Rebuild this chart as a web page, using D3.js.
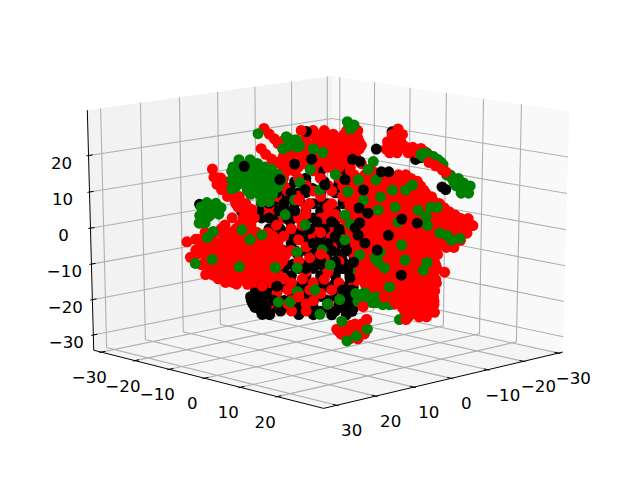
<!DOCTYPE html>
<html>
<head>
<meta charset="utf-8">
<script src="https://cdn.jsdelivr.net/npm/d3@7"></script>
<style>
html, body { margin: 0; padding: 0; background: #fff; }
svg { display: block; }
text { font-family: "DejaVu Sans", sans-serif; font-size: 16.67px; fill: #000; }
</style>
</head>
<body>
<div id="chart"></div>
<script>
var width = 640, height = 480;
var xTicks = [-30, -20, -10, 0, 10, 20, 30];
var yTicks = [-30, -20, -10, 0, 10, 20];
var zTicks = [-30, -20, -10, 0, 10, 20];
var xLim = [-30, 32], yLim = [-31, 31], zLim = [-33, 31];

// values, depth along the view is a guess
var blackBase = [
[10.9,-9.9,-17],[9.6,-8.6,-17],[8.2,-7.2,-17],[11.6,-10.6,-19],[10.2,-9.2,-19],[8.9,-7.9,-19],[11.3,-10.3,-21],[10,-9,-21],[8.6,-7.6,-21],[10.2,-9.2,-23],[8.9,-7.9,-23],
[8,-7,14],[4,-3,14],[2,-1,14],[14,-3,13],[11,0,13],[8,3,13],[5,6,13],
[5,-14,6],[2,-11,6],[0,-9,6],[-3,-6,6],[-6,-3,6],
[10,-9,5],[8,-7,5],[6,-5,5],[4,-3,5],[2,-1,5],[0,1,5],[-2,3,5],
[13,-2,4],[11,0,4],[9,2,4],[7,4,4],[5,6,4],[3,8,4],
[2,-11,-3],[0,-9,-3],[-2,-7,-3],[-4,-5,-3],[-6,-3,-3],[-8,-1,-3],
[6,-5,-4],[4,-3,-4],[2,-1,-4],[0,1,-4],[-2,3,-4],
[10,1,-5],[8,3,-5],[6,5,-5],[4,7,-5],[2.5,8.5,-5],
[1,-10,-12],[-1,-8,-12],[-3,-6,-12],[-5,-4,-12],[-7,-2,-12],
[6,-5,-13],[4,-3,-13],[2,-1,-13],[0,1,-13],[-2,3,-13],
[12,-1,-14],[10,1,-14],[8,3,-14],[6,5,-14],[4,7,-14],[2.5,8.5,-14],
[1,-10,-21],[-1,-8,-21],[-3,-6,-21],[-5,-4,-21],[-6.5,-2.5,-21],[-7.5,-1.5,-21],
[7,-6,-22],[5,-4,-22],[3,-2,-22],[1,0,-22],[-1,2,-22],[-2.5,3.5,-22],
[5,-4,-24],[3,-2,-24],[.5,.5,-24],[-1.5,2.5,-24],
[18.4,-17.4,6.7],[12.7,-11.7,4.7],[11.9,-10.9,3],[10.5,-9.5,10.8],[-7.6,8.6,26.7],[-10.8,11.8,19.2],[-11.5,12.5,19.7]
];
var redUpper = [
[3,-2,27],[1.5,-.5,27],[-1.5,2.5,27],[-2.5,3.5,27],[-3,4,27],
[4,-3,25],[2.5,-1.5,25],[1,0,25],[-.5,1.5,25],[-2,3,25],[-3,4,25],
[4.5,-3.5,23],[3,-2,23],[1.5,-.5,23],[0,1,23],[-1.5,2.5,23],[-3,4,23],[-3.5,4.5,23],
[5,-4,21],[3.5,-2.5,21],[2,-1,21],[.5,.5,21],[-1,2,21],[-2.5,3.5,21],
[4,-3,19],[2,-1,19],[.5,.5,19],[-1,2,19],[-2,3,19],
[5,-4,17],[3,-2,17],[1,0,17],[-.5,1.5,17],[-2,3,17],
[9.6,-8.6,27.5],[8.9,-7.9,26],[8.2,-7.2,24.7],[7.7,-6.7,23.4],[10,-9,22],[9.4,-8.4,20.5],[8.6,-7.6,19.2],[7.8,-6.8,18.3],[7.1,-6.1,17],[7,-6,24.2],[6,-5,21],[5.5,-4.5,18],
[-8.4,9.4,27.5],[-8.2,9.2,25.6],[-7.8,8.8,23.6],[-7.6,8.6,22],[-8.5,9.5,22],[-9.3,10.3,22.8],[-10.4,11.4,22.5],[-11.5,12.5,22.2],[-12,13,21.4],[-12.6,13.6,20.3]
];
var redLeft = [
[16.6,-15.6,16.4],[16.4,-15.4,14.2],[16,-15,12.2],[15.4,-14.4,10.8],[14.6,-13.6,8.9],[13.6,-12.6,8],[13.2,-12.2,6],[12.1,-11.1,6.7],[12.3,-11.3,4.4],[11.3,-10.3,5.3],[15,-14,13],[14,-13,10.8],[13,-12,8.9],[12,-11,2.8],
[15,-14,1],[13,-12,1],[11.5,-10.5,1],
[13,-12,-2],[11.5,-10.5,-2],[10,-9,-2],[8.5,-7.5,-2],[17,-16,-2],[15,-14,-2],
[22,-11,-2],[20.5,-9.5,-2],[19,-8,-2],[17.5,-6.5,-2],[16,-5,-2],[14.5,-3.5,-2],[13,-2,-2],
[13,-22,-8],[11.5,-20.5,-8],[10,-19,-8],[8.5,-17.5,-8],[7,-16,-8],[5.5,-14.5,-8],[4,-13,-8],[2.5,-11.5,-8],
[17.5,-16.5,-8],[16,-15,-8],[14.5,-13.5,-8],[13,-12,-8],[11.5,-10.5,-8],[10,-9,-8],[8.5,-7.5,-8],[7,-6,-8],
[23,-12,-8],[21.5,-10.5,-8],[20,-9,-8],[18.5,-7.5,-8],[17,-6,-8],[15.5,-4.5,-8],[14,-3,-8],[12.5,-1.5,-8],
[12,-21,-14],[10.5,-19.5,-14],[9,-18,-14],[7.5,-16.5,-14],[6,-15,-14],[4.5,-13.5,-14],
[16,-15,-14],[14.5,-13.5,-14],[13,-12,-14],[11.5,-10.5,-14],[10,-9,-14],[8.5,-7.5,-14],[7,-6,-14],
[13.5,-12.5,-15.5],[12,-11,-15.5],
[20.2,-19.2,-3.7],[19.75,-18.75,-8],[17.7,-16.7,-12.8],[19,-18,-3],[19,-18,-6]
];
var redCentre = [
[3,-2,16],[0,1,16],[-2,3,16],[-5,6,16],
[7,-6,12],[4,-3,12],[1,0,12],[-1,2,12],
[8,-7,9],[5,-4,9],[2,-1,9],[-1,2,9],[-3.5,4.5,9],
[9,-8,6],[4,-3,6],[1,0,6],[-2,3,6],
[7,-6,3],[5,-4,3],[2,-1,3],[-1,2,3],[-3,4,3],
[6,-5,0],[3,-2,0],[0,1,0],[-2.5,3.5,0],
[5,-4,-3],[1,0,-3],[-1,2,-3],
[6,-5,-6],[2,-1,-6],[-1.5,2.5,-6],
[5,-4,-9],[2,-1,-9],[-.5,1.5,-9],
[4,-3,-12],[1,0,-12],[-2,3,-12],
[6,-5,-15],[3,-2,-15],[-.5,1.5,-15],
[8,-7,-18],[5,-4,-18],[2,-1,-18],[-1,2,-18],
[9,-8,-21],[6.5,-5.5,-21],[4,-3,-21],[1,0,-21],
[6,-5,-23],[4,-3,-23]
];
var redBody = [
[-2.5,3.5,15],[-4,5,15],[-5.5,6.5,15],[-7,8,15],[-8.5,9.5,15],[-9.5,10.5,15],
[2.5,8.5,15],[1,10,15],[-.5,11.5,15],[-2,13,15],[-3.5,14.5,15],[-5,16,15],[-6,17,15],
[-7,-2,9],[-8.5,-.5,9],[-10,1,9],[-11.5,2.5,9],[-13,4,9],[-14.5,5.5,9],[-16,7,9],[-17,8,9],
[-2.5,3.5,9],[-4,5,9],[-5.5,6.5,9],[-7,8,9],[-8.5,9.5,9],[-10,11,9],[-11.5,12.5,9],[-13,14,9],
[3,8,9],[1.5,9.5,9],[0,11,9],[-1.5,12.5,9],[-3,14,9],[-4.5,15.5,9],[-6,17,9],[-7.5,18.5,9],[-9,20,9],
[-7.5,-1.5,3],[-9,0,3],[-10.5,1.5,3],[-12,3,3],[-13.5,4.5,3],[-15,6,3],[-16.5,7.5,3],[-18,9,3],[-19.5,10.5,3],[-20.5,11.5,3],
[-2,3,3],[-3.5,4.5,3],[-5,6,3],[-6.5,7.5,3],[-8,9,3],[-9.5,10.5,3],[-11,12,3],[-12.5,13.5,3],[-14,15,3],[-15.5,16.5,3],[-17,18,3],[-18,19,3],
[2.5,8.5,3],[1,10,3],[-.5,11.5,3],[-2,13,3],[-3.5,14.5,3],[-5,16,3],[-6.5,17.5,3],[-8,19,3],[-9.5,20.5,3],[-11,22,3],[-12.5,23.5,3],[-13.5,24.5,3],
[-7,-2,-3],[-8.5,-.5,-3],[-10,1,-3],[-11.5,2.5,-3],[-13,4,-3],[-14.5,5.5,-3],[-16,7,-3],[-17.5,8.5,-3],[-19,10,-3],[-20.5,11.5,-3],[-22,13,-3],[-23,14,-3],
[-2.5,3.5,-3],[-4,5,-3],[-5.5,6.5,-3],[-7,8,-3],[-8.5,9.5,-3],[-10,11,-3],[-11.5,12.5,-3],[-13,14,-3],[-14.5,15.5,-3],[-16,17,-3],[-17,18,-3],
[2,9,-3],[.5,10.5,-3],[-1,12,-3],[-2.5,13.5,-3],[-4,15,-3],[-5.5,16.5,-3],[-7,18,-3],[-8.5,19.5,-3],[-10,21,-3],[-11,22,-3],
[-7.5,-1.5,-9],[-9,0,-9],[-10.5,1.5,-9],[-12,3,-9],[-13.5,4.5,-9],[-15,6,-9],[-16.5,7.5,-9],[-18,9,-9],[-19,10,-9],
[-3,4,-9],[-4.5,5.5,-9],[-6,7,-9],[-7.5,8.5,-9],[-9,10,-9],[-10.5,11.5,-9],[-12,13,-9],[-13.5,14.5,-9],
[2.5,8.5,-9],[1,10,-9],[-.5,11.5,-9],[-2,13,-9],[-3.5,14.5,-9],[-5,16,-9],[-6.5,17.5,-9],[-8,19,-9],[-8.8,19.8,-9],
[-8,-1,-15],[-9.5,.5,-15],[-11,2,-15],[-12.5,3.5,-15],[-14,5,-15],[-15.5,6.5,-15],[-17,8,-15],[-18.5,9.5,-15],
[-2.5,3.5,-15],[-4,5,-15],[-5.5,6.5,-15],[-7,8,-15],[-8.5,9.5,-15],[-10,11,-15],[-11.5,12.5,-15],[-13,14,-15],[-13.8,14.8,-15],
[.5,10.5,-15],[-1,12,-15],[-2.5,13.5,-15],[-4,15,-15],[-5.5,16.5,-15],[-7,18,-15],[-8.5,19.5,-15],
[-12.5,3.5,-21],[-14,5,-21],[-15.5,6.5,-21],[-17,8,-21],[-18.5,9.5,-21],
[-8,9,-21],[-9.5,10.5,-21],[-11,12,-21],[-12.5,13.5,-21],[-13.5,14.5,-21],
[-4.5,15.5,-21],[-6,17,-21],[-7.5,18.5,-21],[-8.5,19.5,-21],
[-10,11,-24.5],[-11.5,12.5,-24.5],[-12.5,13.5,-24.5],[-14.9,15.9,-11.9]
];
var redBottom = [
[-.6,1.6,-28.9],[-1.6,2.6,-27.5],[-2.7,3.7,-26.6],[-3.6,4.6,-26.6],[-4.3,5.3,-25.3],[-1.3,2.3,-29.7],[-2.3,3.3,-28.9],[-3.1,4.1,-28.6],[-4,5,-29.4],[-3.1,4.1,-30.8],[-2,3,-30.8],[-.2,1.2,-28.1]
];
var greenLobes = [
[13,-12,18],[11.7,-10.7,18],[10.5,-9.5,18],
[13.2,-12.2,16.4],[12,-11,16.4],[10.8,-9.8,16.4],[9.6,-8.6,16.4],[8.6,-7.6,16.4],
[12.5,-11.5,14.4],[11.3,-10.3,14.4],[10.1,-9.1,14.4],[8.9,-7.9,14.4],[8.1,-7.1,14.4],
[13,-12,12.5],[11.7,-10.7,12.5],[10.5,-9.5,12.5],[9.3,-8.3,12.5],[8.2,-7.2,12.5],
[11.9,-10.9,10.6],[10.6,-9.6,10.6],[9.4,-8.4,10.6],[8.6,-7.6,10.6],[10,-9,9],[9.2,-8.2,9],[14,-13,15.8],[14,-13,11],
[17.4,-16.4,7.2],[16.2,-15.2,7],[15.5,-14.5,5.8],[17.6,-16.6,5.3],[16.5,-15.5,5],[18.4,-17.4,3.6],[17.2,-16.2,3.3],[18,-17,2],
[-15.6,16.6,14.4],[-16.4,17.4,13.3],[-17.3,18.3,12.8],[-18,19,11.7],[-16.9,17.9,11.4],[-16,17,13],[-17.7,18.7,10.8],
[-11.5,12.5,20.6],[-12.2,13.2,21],[-12.9,13.9,20],[-13.8,14.8,19.2],[-14.5,15.5,17.8]
];
var greenSpecks = [
[-1.6,2.6,29.4],[-2,3,27.5],[10.4,-9.4,26.1],[6.6,-5.6,25.3],[5.9,-4.9,23.3],[7.1,-6.1,22],[3,-2,22],[1.7,-.7,21],[4.8,-3.8,22.8],[-5.1,6.1,18.6],[-4.4,5.4,16.4],
[-5.5,6.5,13.6],[-3.1,4.1,13.6],[-1.7,2.7,10.3],[-3.8,4.8,8],[-6.1,7.1,8.9],[-7.7,8.7,10.8],[-10.4,11.4,12.2],[-9.5,10.5,10.8],[-12.9,13.9,6.1],[-11.2,12.2,5.3],[-13.8,14.8,6.1],[-12.3,13.3,3.6],[-12.5,13.5,1.1],[-8.5,9.5,2],[-2,3,1.4],[-5.8,6.8,5.3],[-8.1,9.1,6.1],
[-16.9,17.9,-2.5],[-15.2,16.2,-1.7],[-15.8,16.8,-3],[-14.2,15.2,-1],
[-9,10,-4.4],[-6.1,7.1,-6.4],[-5.4,6.4,-8],[-6.7,7.7,-10.8],[-5.8,6.8,-9.2],[-12.5,13.5,-9.2],[-12,13,-11.4],[-9.5,10.5,-8.6],[-7.4,8.4,-16.1],
[-3.1,4.1,-18.3],[-4,5,-17.8],[-3.1,4.1,-20.3],[-4.4,5.4,-19.7],[-5.4,6.4,-20.6],[-6.5,7.5,-21.1],[-7.4,8.4,-21.1],[-6,7,-19.2],[-8.8,9.8,-25.3],
[19.1,-18.1,-9.7],[17.4,-16.4,-2.5],[16.8,-15.8,-8.6],[13.1,-12.1,-10.6],[12.7,-11.7,-.3],[11.6,-10.6,-3],[10,-9,-1.7],[16.6,-15.6,-.8],[8.2,-7.2,-10.8],[5.2,-4.2,-6.4],[1.8,-.8,-5.8],[5.2,-4.2,-10.8],[6.2,-5.2,-20.5],[7.8,-6.8,-20.5],[2.1,-1.1,-23.9],[1.1,-.1,-21],[5.2,-4.2,-17.5],[4.1,-3.1,1.1],[5.5,-4.5,8],[6.8,-5.8,3.9],[4.8,-3.8,12.8],[2.1,-1.1,10.8],[0,1,15],[3.4,-2.4,16.4],[-1.3,2.3,3.9],[.7,.3,-10],[-2,3,-11.4],[-3.3,4.3,-7.2],[-1.3,2.3,-3],[2.8,-1.8,-17],[-.6,1.6,-19.7],
[-1.6,2.6,-31.4],[-2.9,3.9,-30],[-4.4,5.4,-28],[-.9,1.9,-25.8]
];
var blackTop = [
[12.3,-11.3,17.2],[3.9,-2.9,26.7],[-5.5,6.5,22],[-14.4,15.4,11.7],[-14.9,15.9,11],[-3.3,4.3,18.6],[-2.3,3.3,19.2],[-7.2,8.2,15.8],[-6.2,7.2,15.8],[-1.3,2.3,13.6],[-3.8,4.8,10.8],[-3.2,4.2,5.8],[-4.4,5.4,4.4],[-3.3,4.3,1.7],[-2.7,3.7,.3],[-9,10,2.8],[-11.1,12.1,1.7],[-7.2,8.2,-1.7],[-5.7,6.7,-5.8],[-9,10,-12.8],[-2.5,3.5,-9.2],[-1.7,2.7,-11.4],[-2,3,-13.6],[-3.1,4.1,-1.7],[-4,5,-3.9],[3.2,-2.2,19.2],[5.5,-4.5,17.8],[7.5,-6.5,13.6],[4.1,-3.1,10.8],[1.4,-.4,12.2]
];
var redTop = [
[-12.6,13.6,18.4],[-13.5,14.5,17.5],[-14.4,15.4,16.4],[-14.9,15.9,15.8],[-3.8,4.8,-21.7],[-8.1,9.1,-20.3],[-6.7,7.7,-19],[-9.7,10.7,-25.3],
[4.6,-3.6,27],[-4.3,5.3,-25.3],[5,-4,8],[2,-1,-1],[10,-9,-16],[5,-4,-19],[2,-1,-7]
];

// denser parts of the cloud, as [height, positions across the view]
var blackRows = [
[16,[-8,-6,-4.5,-1,2]],[13,[-7,-4.5,-3,-.5,1.5,3]],[10,[-8,-6.5,-4,-3,-1,1,3]],[7,[-9,-7.5,-6,-4.5,-2,0,2,3.5]],
[3,[-9,-7.5,-6,-4,-2,0,2,4]],[0,[-8,-6.5,-5,-3,-1,1,3]],[-2,[-7,-5,-3,-1,1,3]],[-6,[-6,-4.5,-3,-1,1,3]],
[-9,[-6,-4,-2,0,2,3.5]],[-11,[-6,-4,-2,0,2,3.5]],[-15,[-7,-5,-3,-1,1,3]],[-17,[-8,-5,-3,-1,1,3]],
[-20,[-8,-6,-4,-2,0,2,3.5]],[-23,[-6.5,-1,1,3]]
];
var redMixRows = [
[14,[-6,-4,-1,1.5]],[10.5,[-5.5,-2,.5,2.5]],[7,[-6,-2.5,.5,3]],[4,[-8,-3,0,1]],[1,[-7,-3.5,-.5,2.5]],[-2,[-6,-2,.5]],
[-5,[-3,.5]],[-8,[-6,-2.5,-.5]],[-14,[-3.5,-.5]],[-17,[-5.5,-2.5,.5]],[-20,[-7.5,-5,-2]]
];
var redBodyRows = [
[14,[4.2,5.7,7.2,8.7,10.2,11.2]],[12,[3.7,5.2,6.7,8.2,9.7,11.2,12.5]],[10,[4.2,5.7,7.2,8.7,10.2,11.7,13.2]],
[8,[3.7,5.2,6.7,8.2,9.7,11.2,12.7,14.2]],[6,[4.2,5.7,7.2,8.7,10.2,11.7,13.2,14.7,15.7]],
[4,[3.7,5.2,6.7,8.2,9.7,11.2,12.7,14.2,15.7,17.2]],[2,[4.2,5.7,7.2,8.7,10.2,11.7,13.2,14.7,16.2,17.7,18.8]],
[0,[3.7,5.2,6.7,8.2,9.7,11.2,12.7,14.2,15.7,17.2,18.7]],[-2,[4.2,5.7,7.2,8.7,10.2,11.7,13.2,14.7,16.2,17.7]],
[-4,[3.7,5.2,6.7,8.2,9.7,11.2,12.7,14.2,15.7,16.9]],[-6,[4.2,5.7,7.2,8.7,10.2,11.7,13.2,14.7]],
[-8,[3.7,5.2,6.7,8.2,9.7,11.2,12.7,14.2]],[-10,[4.2,5.7,7.2,8.7,10.2,11.7,13.2,14.7]],
[-12,[3.7,5.2,6.7,8.2,9.7,11.2,12.7,14.2]],[-14,[4.2,5.7,7.2,8.7,10.2,11.7,13.2,14.7]],
[-16,[5.2,6.7,8.2,9.7,11.2,12.7,14.2]],[-18,[6.7,8.2,9.7,11.2,12.7,14.2]],[-20,[8.7,10.2,11.7,13.2,14.5]],
[-22,[10.2,11.7,13.2,14.2]],[-24,[11.2,12.7,13.5]]
];
var redLobeRows = [
[14,[-15,-14.5]],[11,[-14,-13]],[7,[-12.5,-11.2]],[3,[-13,-11.5,-10]],[0,[-14.5,-12.5,-11]],
[-1,[-16.7,-15.2,-13.2,-11.2,-9.7,-8.2]],[-3,[-17.7,-15.7,-14.2,-12.7,-11.2,-9.7,-8.2,-6.7]],
[-5,[-17.2,-15.7,-14.2,-12.7,-11.2,-9.7,-8.2,-6.7]],[-7,[-17.7,-16.2,-14.7,-13.2,-11.7,-10.2,-8.7,-7.2,-5.7]],
[-9,[-16.7,-15.2,-13.7,-12.2,-10.7,-9.2,-7.7,-6.2]],[-11,[-16.2,-14.7,-13.2,-11.7,-10.2,-8.7,-7.2]],
[-13,[-15.7,-14.2,-12.7,-11.2,-9.7,-8.2,-6.7]],[-15,[-14,-13,-10,-8]]
];
var redUpperRows = [
[26,[-2.3,-.8,.7,2.2,3.3,8.6,10]],[24,[-5,-3,-1.3,.2,1.7,3.2,4.2,8,9.8]],[22,[-3.2,-1.7,-.2,1.3,2.8,4.2,7.8,9]],
[21,[8.3,9.3,10.8,12,13.3]],[20,[-6,-5,-3.5,-2,-.5,1,2.5,3.7]],[18,[-5.5,-4,-3.3,-1.7,-.2,1.3,2.7,4.5]],[16,[-5.5,-4.5]]
];
var redBottomRows = [[-27,[2,3,4.5]],[-29.5,[1.8,3.5,4.6]]];
var blackTopRows = [
[10,[-7,-5]],[7,[-8,-6]],[5,[-6.5,-4.5]],[3,[-8,-5.5]],
[2,[-1.5,.5]],[0,[-2.5,-.5,1.5]],[-2,[-1,1]],[-4,[-2,0,2]],[-6,[-1.5,.5,2.5]],[-9,[-1,1]],[-11,[-3,1.5]],
[-16,[-9,-7]],[-17,[2,3.3]],[-18,[-10,-8.5]],[-19,[2.5,3.5]],[-20,[-10.5,-9,-7.5]],[-21,[1.5,3]],[-22,[-10,-8.5]],[-23,[2.5,3.3]],[-24,[-9,-8]]
];
var greenRows = [
[28.5,[2.8,3.5]],[24.5,[-5,-4.3]],[22.5,[-5.5,-4.2]],
[19,[-12,-10.5]],[17,[-12.8,-11.4,-10,-8.5]],[15,[-12.3,-10.9,-9.5,-8,-6.8]],[13.4,[-13,-11.3,-9.8,-8.7,-7,-6.3]],
[11.5,[-12.5,-11,-9,-7.8,-6.8]],[9.5,[-10.5,-9.3,-8.2,-7.5]],[7.5,[-9,-8]],
[6,[-17.2,-15.9,-14.8]],[4,[-17,-15.8,-14.8]],[1.5,[-17.5,-16.7]],
[15,[16,16.5]],[14,[16.8,17.6]],[12,[17.3,18.5,19.2]],[10,[18,19]],[20,[12.8,14.2]],[18.5,[15.2]],
[-18,[3.8,4.8]],[-19,[4.5,5.5,6.5,7.5]],[-20.5,[4.7,6,7,8,8.8]]
];

function rowsToPoints(rows) {
  var out = [];
  rows.forEach(function(r) {
    r[1].forEach(function(d) { out.push([1 - d, d, r[0]]); });
  });
  return out;
}

var elev = 15 * Math.PI / 180, azim = 46 * Math.PI / 180, dist = 10;
var sx = d3.scaleLinear().domain([-0.1, 0.1]).range([328 - 322.8, 328 + 322.8]);
var sy = d3.scaleLinear().domain([-0.1, 0.1]).range([232.6 + 238.8, 232.6 - 238.8]);
var nx = d3.scaleLinear().domain(xLim).range([0, 1]);
var ny = d3.scaleLinear().domain(yLim).range([0, 1]);
var nz = d3.scaleLinear().domain(zLim).range([0, 1]);

var pad = 1 / 48;
var xE = [xLim[0] - (xLim[1] - xLim[0]) * pad, xLim[1] + (xLim[1] - xLim[0]) * pad];
var yE = [yLim[0] - (yLim[1] - yLim[0]) * pad, yLim[1] + (yLim[1] - yLim[0]) * pad];
var zE = [zLim[0] - (zLim[1] - zLim[0]) * pad, zLim[1] + (zLim[1] - zLim[0]) * pad];
var dx = (xLim[1] - xLim[0]) / 12, dy = (yLim[1] - yLim[0]) / 12;

// same camera as a mplot3d axes
function project(p) {
  var a = nx(p[0]) - 0.5, b = ny(p[1]) - 0.5, c = nz(p[2]) - 0.5;
  var right = -Math.sin(azim) * a + Math.cos(azim) * b;
  var up = -Math.sin(elev) * Math.cos(azim) * a - Math.sin(elev) * Math.sin(azim) * b + Math.cos(elev) * c;
  var toEye = Math.cos(elev) * Math.cos(azim) * a + Math.cos(elev) * Math.sin(azim) * b + Math.sin(elev) * c;
  var w = dist - toEye;
  return [sx(right / w), sy(up / w)];
}

var svg = d3.select("#chart").append("svg").attr("width", width).attr("height", height);
var line = d3.line().x(function(d) { return project(d)[0]; }).y(function(d) { return project(d)[1]; });

function pane(pts, fill) {
  svg.append("path").attr("d", line(pts) + "Z").attr("fill", fill).attr("stroke", "none");
}
pane([[xE[1], yE[0], zE[0]], [xE[0], yE[0], zE[0]], [xE[0], yE[0], zE[1]], [xE[1], yE[0], zE[1]]], "#f2f2f2");
pane([[xE[0], yE[0], zE[0]], [xE[0], yE[1], zE[0]], [xE[0], yE[1], zE[1]], [xE[0], yE[0], zE[1]]], "#f9f9f9");
pane([[xE[0], yE[0], zE[0]], [xE[1], yE[0], zE[0]], [xE[1], yE[1], zE[0]], [xE[0], yE[1], zE[0]]], "#f5f5f5");

function grid(pts) {
  svg.append("path").attr("d", line(pts)).attr("fill", "none").attr("stroke", "#b0b0b0").attr("stroke-width", 1.1);
}
xTicks.forEach(function(t) { grid([[t, yE[1], zE[0]], [t, yE[0], zE[0]], [t, yE[0], zE[1]]]); });
yTicks.forEach(function(t) { grid([[xE[1], t, zE[0]], [xE[0], t, zE[0]], [xE[0], t, zE[1]]]); });
zTicks.forEach(function(t) { grid([[xE[1], yE[0], t], [xE[0], yE[0], t], [xE[0], yE[1], t]]); });

function axisLine(pts) {
  svg.append("path").attr("d", line(pts)).attr("fill", "none").attr("stroke", "#000").attr("stroke-width", 1);
}
axisLine([[xE[1], yE[1], zE[0]], [xE[0], yE[1], zE[0]]]);
axisLine([[xE[1], yE[0], zE[0]], [xE[1], yE[1], zE[0]]]);
axisLine([[xE[1], yE[0], zE[0]], [xE[1], yE[0], zE[1]]]);

function label(p, dxp, dyp, txt) {
  var q = project(p);
  svg.append("text").attr("x", q[0] + dxp).attr("y", q[1] + dyp)
    .attr("text-anchor", "middle").attr("dy", "0.36em").text(txt);
}
var fmt = function(t) { return String(t).replace("-", "\u2212"); };
xTicks.forEach(function(t) {
  axisLine([[t, yE[1] + dy * 0.1, zE[0]], [t, yE[1] - dy * 0.2, zE[0]]]);
  label([t, yE[1], zE[0]], 15, 25, fmt(t));
});
yTicks.forEach(function(t) {
  axisLine([[xE[1] + dx * 0.1, t, zE[0]], [xE[1] - dx * 0.2, t, zE[0]]]);
  label([xE[1], t, zE[0]], -12, 25, fmt(t));
});
zTicks.forEach(function(t) {
  axisLine([[xE[1] + dx * 0.1, yE[0], t], [xE[1] - dx * 0.2, yE[0], t]]);
  label([xE[1], yE[0], t], -27, 7, fmt(t));
});

function scatter(points, colour) {
  svg.append("g").selectAll("circle").data(points).enter().append("circle")
    .attr("cx", function(d) { return project(d)[0]; })
    .attr("cy", function(d) { return project(d)[1]; })
    .attr("r", 5.5).attr("fill", colour);
}
scatter(blackBase, "#000");
scatter(rowsToPoints(blackRows), "#000");
scatter(redUpper, "#f00");
scatter(rowsToPoints(redUpperRows), "#f00");
scatter(redLeft, "#f00");
scatter(rowsToPoints(redLobeRows), "#f00");
scatter(redCentre, "#f00");
scatter(rowsToPoints(redMixRows), "#f00");
scatter(redBody, "#f00");
scatter(rowsToPoints(redBodyRows), "#f00");
scatter(redBottom, "#f00");
scatter(rowsToPoints(redBottomRows), "#f00");
scatter(rowsToPoints(blackTopRows), "#000");
scatter(greenLobes, "#008000");
scatter(rowsToPoints(greenRows), "#008000");
scatter(greenSpecks, "#008000");
scatter(blackTop, "#000");
scatter(redTop, "#f00");
</script>
</body>
</html>
